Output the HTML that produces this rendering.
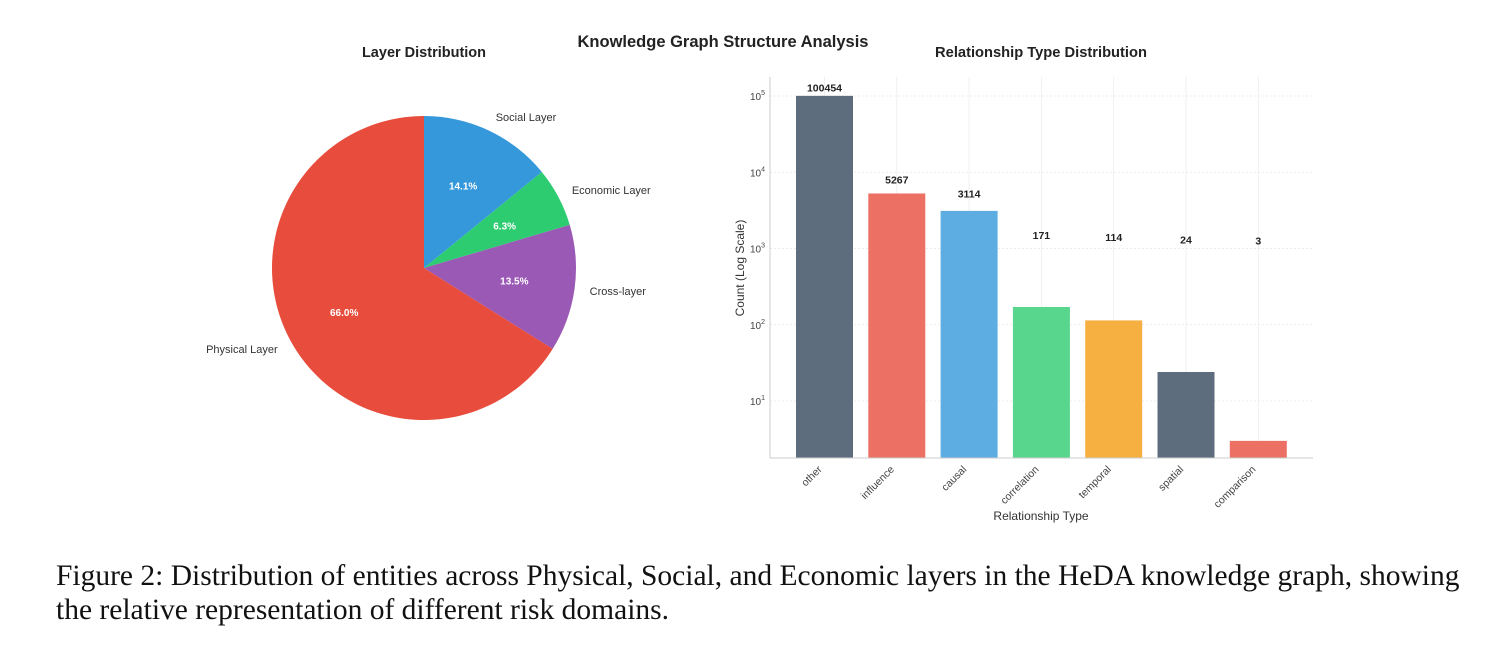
<!DOCTYPE html>
<html><head><meta charset="utf-8"><style>
body{margin:0;background:#fff;width:1512px;height:659px;overflow:hidden;position:relative;font-family:"Liberation Sans",sans-serif}
#cap{position:absolute;left:56px;top:559px;font-family:"Liberation Serif",serif;font-size:29.5px;line-height:34px;color:#111;width:1440px;white-space:nowrap}
</style></head><body>
<svg id="fig" width="1512" height="540" style="position:absolute;left:0;top:0" font-family="Liberation Sans, sans-serif">
<text x="723" y="47" text-anchor="middle" font-size="16.5" font-weight="bold" fill="#222">Knowledge Graph Structure Analysis</text>
<text x="424" y="57" text-anchor="middle" font-size="14.5" font-weight="bold" fill="#222">Layer Distribution</text>
<text x="1041" y="57" text-anchor="middle" font-size="14.7" font-weight="bold" fill="#222">Relationship Type Distribution</text>
<g id="pie"></g>
<g id="bar"></g>
</svg>
<div id="cap">Figure 2: Distribution of entities across Physical, Social, and Economic layers in the HeDA knowledge graph, showing<br>the relative representation of different risk domains.</div>
<script>
const pieLabels=["Social Layer","Economic Layer","Cross-layer","Physical Layer"];
const pieValues=[14.1,6.3,13.5,66.0];
const pieColors=["#3498db","#2ecc71","#9b59b6","#e74c3c"];
const cats=["other","influence","causal","correlation","temporal","spatial","comparison"];
const counts=[100454,5267,3114,171,114,24,3];
const barColors=["#5d6d7e","#ec7063","#5dade2","#58d68d","#f5b041","#5d6d7e","#ec7063"];
const yTicks=[1,2,3,4,5];
const NS="http://www.w3.org/2000/svg";
function mk(t,a,p,txt){const e=document.createElementNS(NS,t);for(const k in a)e.setAttribute(k,a[k]);if(txt!==undefined)e.textContent=txt;p.appendChild(e);return e;}
const pie=document.getElementById('pie');
const cx=424,cy=268,R=152;
const tot=pieValues.reduce((a,b)=>a+b,0);
let acc=0;
pieValues.forEach((v,i)=>{
  const a0=acc/tot*2*Math.PI;acc+=v;const a1=acc/tot*2*Math.PI;
  const p=(a)=>[cx+R*Math.sin(a),cy-R*Math.cos(a)];
  const [x0,y0]=p(a0),[x1,y1]=p(a1);
  const large=(a1-a0)>Math.PI?1:0;
  const s=mk('path',{d:`M${cx},${cy}L${x0},${y0}A${R},${R} 0 ${large} 1 ${x1},${y1}Z`,fill:pieColors[i]},pie);
  
  
  const am=(a0+a1)/2;
  const lx=cx+R*1.1*Math.sin(am),ly=cy-R*1.1*Math.cos(am);
  const t=mk('text',{x:lx,y:ly+4,'text-anchor':Math.sin(am)>=0?'start':'end','font-size':11,fill:'#333'},pie,pieLabels[i]);
  
  
  const px=cx+R*0.6*Math.sin(am),py=cy-R*0.6*Math.cos(am);
  const q=mk('text',{x:px,y:py+4,'text-anchor':'middle','font-size':10,'font-weight':'bold',fill:'#fff'},pie,v.toFixed(1)+'%');
  
  
});
const bar=document.getElementById('bar');
const L=770,Rr=1313,T=77,B=458;
const y0px=401,dec=76.25;
const y=v=>y0px-(Math.log10(v)-1)*dec;
const step=72.3, bw=57, x0=824.5;
const xc=i=>x0+step*i;
yTicks.forEach(k=>{
  const g=mk('line',{x1:L,x2:Rr,y1:y(Math.pow(10,k)),y2:y(Math.pow(10,k)),stroke:'#e6e6e6','stroke-width':0.8,'stroke-dasharray':'2,2'},bar);
  
  
  const t=mk('text',{x:L-5,y:y(Math.pow(10,k))+4,'text-anchor':'end','font-size':10,fill:'#444'},bar);
  
  
  mk('tspan',{},t,'10');mk('tspan',{dy:-5,'font-size':7},t,String(k));
});
cats.forEach((c,i)=>{
  const g=mk('line',{x1:xc(i),x2:xc(i),y1:T,y2:B,stroke:'#ececec','stroke-width':0.8},bar);
  
  
});
cats.forEach((c,i)=>{
  const top=y(counts[i]);
  const r=mk('rect',{x:xc(i)-bw/2,y:top,width:bw,height:B-top,fill:barColors[i]},bar);
  
  
  const ly=y(counts[i]+counts[0]*0.01);
  const t=mk('text',{x:xc(i),y:ly-4,'text-anchor':'middle','font-size':10.5,'font-weight':'bold',fill:'#222'},bar,String(counts[i]));
  
  
  const xl=mk('text',{x:xc(i)-2,y:B+12,'text-anchor':'end','font-size':10.5,fill:'#444',transform:`rotate(-45 ${xc(i)-2} ${B+12})`},bar,c);
  
  
});
const ax=mk('path',{d:`M${L},${T}V${B}H${Rr}`,fill:'none',stroke:'#ccc','stroke-width':1},bar);


const yt=mk('text',{x:744,y:268,'text-anchor':'middle','font-size':12,fill:'#333',transform:'rotate(-90 744 268)'},bar,'Count (Log Scale)');


const xt=mk('text',{x:1041,y:520,'text-anchor':'middle','font-size':12,fill:'#333'},bar,'Relationship Type');


</script>
</body></html>
